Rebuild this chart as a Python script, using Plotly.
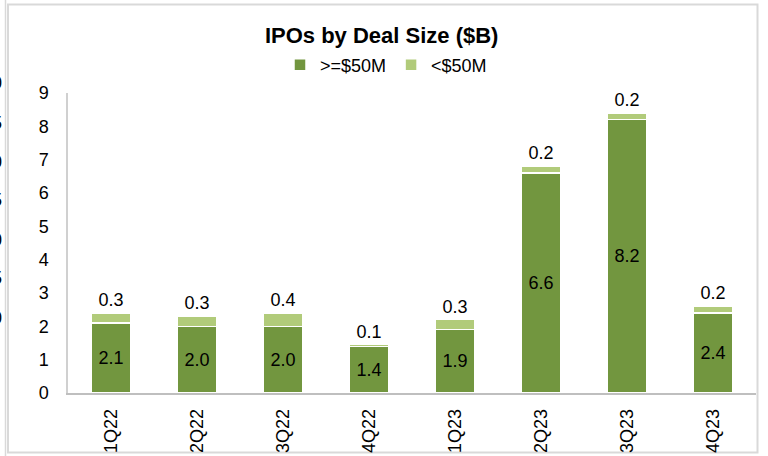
import plotly.graph_objects as go

quarters = ["1Q22", "2Q22", "3Q22", "4Q22", "1Q23", "2Q23", "3Q23", "4Q23"]
large_deals = [2.1, 2.0, 2.0, 1.4, 1.9, 6.6, 8.2, 2.4]
small_deals = [0.3, 0.3, 0.4, 0.05, 0.3, 0.2, 0.2, 0.2]
y_ticks = [0, 1, 2, 3, 4, 5, 6, 7, 8, 9]
side_digits = ["0", "5", "0", "5", "0", "5", "0"]

W, H = 768, 456
L, R, T, B = 68, 756, 93, 393

def px(x):
    return (x - L) / (R - L)

def py(y):
    return (B - y) / (B - T)

DARK = "#72963F"
LIGHT = "#B1CB7A"
FONT = "Liberation Sans, Arial, sans-serif"

fig = go.Figure()
fig.add_trace(go.Bar(
    x=quarters, y=large_deals, name=">=$50M",
    marker=dict(color=DARK, line=dict(color="white", width=1.5)),
    texttemplate="%{y:.1f}", textposition="inside", insidetextanchor="middle",
    textfont=dict(color="black", size=18, family=FONT),
))
fig.add_trace(go.Bar(
    x=quarters, y=small_deals, name="<$50M",
    marker=dict(color=LIGHT, line=dict(color="white", width=1.5)),
    texttemplate="%{y:.1f}", textposition="outside", cliponaxis=False,
    textfont=dict(color="black", size=18, family=FONT),
))

shapes = [
    dict(type="rect", xref="paper", yref="paper",
         x0=px(8), x1=px(757.5), y0=py(452.5), y1=py(4.5),
         line=dict(color="#D9D9D9", width=2), fillcolor="rgba(0,0,0,0)", layer="below"),
    dict(type="line", xref="paper", yref="paper",
         x0=px(5.5), x1=px(5.5), y0=py(456), y1=py(0),
         line=dict(color="#D9D9D9", width=1.5)),
]

annotations = []
side_y = [83, 123, 162, 200, 240, 278, 318]
for d, yy in zip(side_digits, side_y):
    annotations.append(dict(text=d, xref="paper", yref="paper", x=px(4), y=py(yy),
                            xanchor="right", yanchor="middle", showarrow=False,
                            font=dict(size=18, color="black", family=FONT)))

fig.update_layout(
    width=W, height=H,
    margin=dict(l=L, r=W - R, t=T, b=H - B, autoexpand=False),
    paper_bgcolor="white", plot_bgcolor="white",
    barmode="stack", bargap=0.53,
    title=dict(text="<b>IPOs by Deal Size ($B)</b>", x=0.497, xanchor="center",
               y=1 - 35 / H, yanchor="middle",
               font=dict(size=22, color="black", family=FONT)),
    legend=dict(orientation="h", x=px(386), xanchor="center", y=py(65), yanchor="middle",
                font=dict(size=18, color="black", family=FONT),
                itemwidth=30, traceorder="normal", bgcolor="rgba(0,0,0,0)"),
    showlegend=True,
    font=dict(family=FONT, color="black"),
    xaxis=dict(showline=True, linecolor="#BFBFBF", linewidth=1.5, tickangle=-90,
               ticks="", tickfont=dict(size=18, color="black", family=FONT),
               ticklabelstandoff=7, showgrid=False, zeroline=False),
    yaxis=dict(range=[0, 9], tickvals=y_ticks, showline=True, linecolor="#D0D0D0",
               linewidth=1.5, showgrid=False, zeroline=False, ticks="",
               tickfont=dict(size=18, color="black", family=FONT),
               ticklabelstandoff=14),
    shapes=shapes, annotations=annotations,
)

fig.write_html("out.html", config={"displayModeBar": False},
               post_script="document.body.style.margin='0';")
